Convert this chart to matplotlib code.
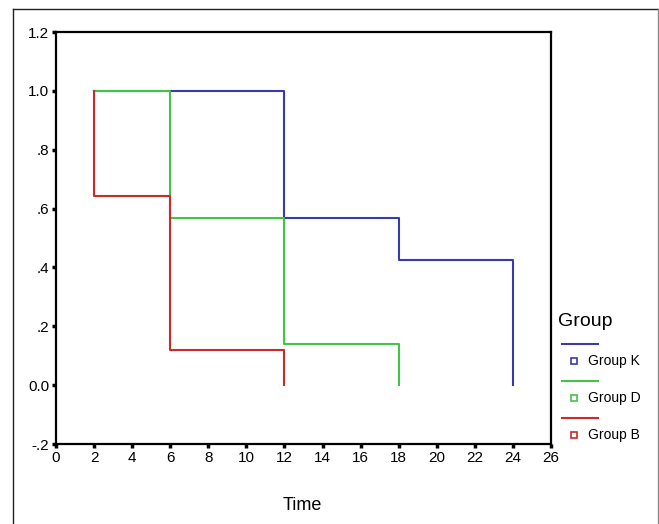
import matplotlib
matplotlib.use("Agg")
from matplotlib import pyplot as plt
from matplotlib.lines import Line2D

plt.rcParams['font.family'] = ['Liberation Sans', 'DejaVu Sans']

# survival steps per group (time, cumulative survival)
groups = ["Group K", "Group D", "Group B"]
colors = ["#3a3aaa", "#44c444", "#cc2a2a"]
time_k = [2, 12, 18, 24]
surv_k = [1.0, 0.567, 0.426, 0.0]
time_d = [2, 6, 12, 18]
surv_d = [1.0, 0.567, 0.14, 0.0]
time_b = [2, 2, 6, 12]
surv_b = [1.0, 0.643, 0.118, 0.0]

xticks = list(range(0, 27, 2))
yticks = [-0.2, 0.0, 0.2, 0.4, 0.6, 0.8, 1.0, 1.2]
ylabels = ["-.2", "0.0", ".2", ".4", ".6", ".8", "1.0", "1.2"]

W, H = 659, 524
fig = plt.figure(figsize=(W / 100, H / 100), dpi=100)

def px(x, y):
    return x / W, 1 - y / H

# outer frame
fig.add_artist(Line2D([13 / W, 13 / W], [-0.01, 1 - 9 / H], color="#222222", lw=1.0))
fig.add_artist(Line2D([13 / W, 658 / W], [1 - 9 / H, 1 - 9 / H], color="#222222", lw=1.0))
fig.add_artist(Line2D([658 / W, 658 / W], [-0.01, 1 - 9 / H], color="#888888", lw=1.0))

ax = fig.add_axes([56 / W, 1 - 444 / H, (551 - 56) / W, (444 - 32) / H])

series = [(time_k, surv_k), (time_d, surv_d), (time_b, surv_b)]
for (t, s), c in zip(series, colors):
    ax.step(t, s, where="post", color=c, lw=1.5)

ax.set_xlim(0, 26)
ax.set_ylim(-0.2, 1.2)
ax.set_xticks(xticks)
ax.set_yticks(yticks)
ax.set_yticklabels(ylabels)
ax.tick_params(direction="out", length=3, width=2.5, labelsize=11, pad=2)
for sp in ax.spines.values():
    sp.set_linewidth(1.6)

fig.text(*px(302, 505), "Time", fontsize=13, ha="center", va="center")

# legend drawn by hand
fig.text(*px(558, 322), "Group", fontsize=14, ha="left", va="center")
line_y = [344, 381, 418]
for g, c, ly in zip(groups, colors, line_y):
    x0, y0 = px(562, ly)
    x1, _ = px(598, ly)
    fig.add_artist(Line2D([x0, x1], [y0, y0], color=c, lw=1.5))
    mx, my = px(574, ly + 17)
    fig.add_artist(Line2D([mx], [my], marker="s", markersize=4.5, markerfacecolor="white",
                          markeredgecolor=c, markeredgewidth=1.2, linestyle="none"))
    fig.text(*px(588, ly + 17), g, fontsize=10, ha="left", va="center")

fig.savefig("out.png", dpi=100)
